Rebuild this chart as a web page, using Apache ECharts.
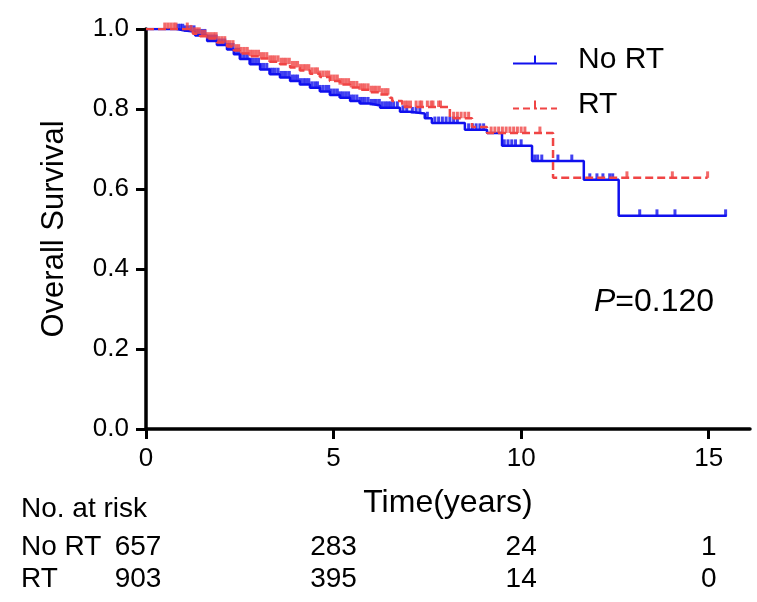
<!DOCTYPE html>
<html><head><meta charset="utf-8">
<script src="https://cdn.jsdelivr.net/npm/echarts@6/dist/echarts.min.js"></script>
<style>html,body{margin:0;padding:0;background:#fff}#c{width:757px;height:602px}</style>
</head><body><div id="c"></div>
<script>
// ---- data (years, survival) ----
const noRtSteps = [
  [0,1.0],[0.83,0.997],[0.99,0.993],[1.31,0.984],[1.63,0.97],[1.89,0.96],[2.16,0.949],
  [2.34,0.937],[2.5,0.925],[2.77,0.912],[3.04,0.899],[3.3,0.887],[3.57,0.879],[3.84,0.87],
  [4.1,0.861],[4.37,0.853],[4.64,0.844],[4.9,0.835],[5.17,0.828],[5.44,0.82],[5.7,0.814],
  [5.97,0.809],[6.24,0.803],[6.77,0.793],[7.03,0.789],[7.43,0.777],[7.62,0.765],[8.5,0.748],
  [9.09,0.74],[9.49,0.708],[10.29,0.67],[11.67,0.623],[12.6,0.533],[15.48,0.533]
];
const rtSteps = [
  [0,1.0],[1.17,0.994],[1.25,0.988],[1.44,0.982],[1.63,0.976],[1.89,0.966],[2.16,0.956],
  [2.34,0.946],[2.5,0.939],[2.77,0.932],[3.04,0.926],[3.3,0.918],[3.57,0.912],[3.84,0.904],
  [4.1,0.896],[4.37,0.888],[4.64,0.88],[4.9,0.87],[5.17,0.861],[5.44,0.854],[5.7,0.848],
  [5.97,0.842],[6.24,0.836],[6.5,0.828],[6.56,0.82],[6.83,0.805],[8.1,0.777],[8.69,0.755],
  [9.09,0.74],[10.85,0.628],[14.97,0.628]
];
const noRtCensor = [0.85,0.92,0.98,1.05,1.12,1.2,1.28,1.35,1.42,1.5,1.57,1.64,1.72,1.8,1.87,1.94,
  2.02,2.1,2.17,2.24,2.32,2.4,2.47,2.54,2.62,2.7,2.77,2.84,2.92,3.0,3.07,3.14,3.22,3.3,3.37,3.44,
  3.52,3.6,3.67,3.74,3.82,3.9,3.97,4.04,4.12,4.2,4.27,4.34,4.42,4.5,4.57,4.64,4.72,4.8,4.87,4.94,
  5.02,5.1,5.17,5.24,5.32,5.4,5.47,5.54,5.62,5.7,5.77,5.84,5.92,6.0,6.07,6.14,6.22,6.3,6.38,6.45,
  6.52,6.6,6.7,6.85,6.95,7.1,7.2,7.3,7.5,7.7,7.8,7.9,8.0,8.1,8.2,8.3,8.6,8.7,8.8,8.9,9.0,
  9.55,9.65,9.75,9.85,10.0,10.36,10.44,10.55,10.98,11.35,11.83,12.02,12.18,12.36,12.44,
  13.16,13.62,14.1,15.45];
const rtCensor = [0.5,0.58,0.66,0.74,0.8,1.1,1.2,1.28,1.35,1.42,1.5,1.57,1.64,1.72,1.8,1.87,1.94,
  2.02,2.1,2.17,2.24,2.32,2.4,2.47,2.54,2.62,2.7,2.77,2.84,2.92,3.0,3.07,3.14,3.22,3.3,3.37,3.44,
  3.52,3.6,3.67,3.74,3.82,3.9,3.97,4.04,4.12,4.2,4.27,4.34,4.42,4.5,4.57,4.64,4.72,4.8,4.87,4.94,
  5.02,5.1,5.17,5.24,5.32,5.4,5.47,5.54,5.62,5.7,5.77,5.84,5.92,6.0,6.07,6.14,6.22,6.3,6.38,6.45,
  6.9,6.97,7.05,7.2,7.3,7.35,7.5,7.6,7.65,7.8,7.85,8.2,8.3,8.4,8.5,8.6,9.2,9.3,9.4,9.5,9.6,
  9.7,9.8,9.9,10.0,10.1,10.5,12.82,14.03,14.97];
const xTicks = [0,5,10,15];
const riskTimes = [0,5,10,15];
const riskNoRT = [657,283,24,1];
const riskRT = [903,395,14,0];
const seriesNames = ['No RT','RT'];

const BLUE = '#1010ee', RED = '#f04545';
const FONT = '"Liberation Sans", Arial, sans-serif';

function valueAt(steps, t){
  let v = steps[0][1];
  for (const s of steps){ if (s[0] <= t) v = s[1]; else break; }
  return v;
}
const chart = echarts.init(document.getElementById('c'), null, {renderer:'canvas'});
const tickSym = {symbol:'rect', symbolSize:[3,6.5], symbolOffset:[0,-3.2]};
chart.setOption({
  animation:false,
  backgroundColor:'#fff',
  grid:{left:146, top:29, right:7, bottom:173},
  xAxis:{
    type:'value', min:0, max:16.1,
    axisLine:{lineStyle:{color:'#000', width:3.5}},
    axisTick:{customValues:xTicks, length:10, lineStyle:{color:'#000', width:3}},
    axisLabel:{customValues:xTicks, fontSize:26, color:'#000', fontFamily:FONT, margin:17},
    splitLine:{show:false},
    name:'Time(years)', nameLocation:'middle', nameGap:58,
    nameTextStyle:{fontSize:32, color:'#000', fontFamily:FONT}
  },
  yAxis:{
    type:'value', min:0, max:1, interval:0.2,
    axisLine:{show:true, lineStyle:{color:'#000', width:3.5}},
    axisTick:{show:true, length:10, lineStyle:{color:'#000', width:3}},
    axisLabel:{fontSize:26, color:'#000', fontFamily:FONT, margin:17,
      formatter:v=>v.toFixed(1)},
    splitLine:{show:false},
    name:'Overall Survival', nameLocation:'middle', nameGap:76, nameRotate:90,
    nameTextStyle:{fontSize:31, color:'#000', fontFamily:FONT}
  },
  legend:{
    orient:'vertical', left:508, top:40, itemWidth:44, itemHeight:10, itemGap:15,
    selectedMode:false,
    textStyle:{fontSize:30, color:'#000', fontFamily:FONT, padding:[0,0,0,16], lineHeight:30},
    data:[
      {name:seriesNames[0], icon:'path://M0,8h44v2h-44z M21,1h2v7h-2z', itemStyle:{color:BLUE}},
      {name:seriesNames[1], icon:'path://M0,8h6v2h-6z M10,8h7v2h-7z M21,8h3v2h-3z M27,8h7v2h-7z M38,8h6v2h-6z M21,1h2v7h-2z', itemStyle:{color:RED}}
    ]
  },
  title:{
    text:'{i|P}=0.120', left:589, top:281,
    textStyle:{fontSize:32, fontWeight:'normal', color:'#000', fontFamily:FONT,
      rich:{i:{fontStyle:'italic', fontSize:32, color:'#000', fontFamily:FONT}}}
  },
  series:[
    {name:seriesNames[0], type:'line', step:'end', data:noRtSteps, showSymbol:false, symbol:'none',
      lineStyle:{color:BLUE, width:2.5}, itemStyle:{color:BLUE}, z:3},
    {name:seriesNames[1], type:'line', step:'end', data:rtSteps, showSymbol:false, symbol:'none',
      lineStyle:{color:RED, width:2.5, type:[8,4]}, itemStyle:{color:RED}, z:4},
    Object.assign({name:seriesNames[0], type:'scatter', data:noRtCensor.map(t=>[t, valueAt(noRtSteps,t)]),
      itemStyle:{color:BLUE}, z:3, silent:true}, tickSym),
    Object.assign({name:seriesNames[1], type:'scatter', data:rtCensor.map(t=>[t, valueAt(rtSteps,t)]),
      itemStyle:{color:RED}, z:4, silent:true}, tickSym)
  ]
});

// risk table, positioned by the x axis scale
const g = [];
const txt = (x, y, s, align) => ({type:'text', x:x, y:y,
  style:{text:String(s), fill:'#000', font:'28px '+FONT, align:align||'center', verticalAlign:'middle'}});
g.push(txt(21, 509, 'No. at risk', 'left'));
g.push(txt(21, 547, seriesNames[0], 'left'));
g.push(txt(21, 579, seriesNames[1], 'left'));
riskTimes.forEach((t,i)=>{
  const px = chart.convertToPixel({xAxisIndex:0}, t) + (i===0 ? -8 : 0);
  g.push(txt(px, 547, riskNoRT[i]));
  g.push(txt(px, 579, riskRT[i]));
});
chart.setOption({graphic:g});
</script>
</body></html>
